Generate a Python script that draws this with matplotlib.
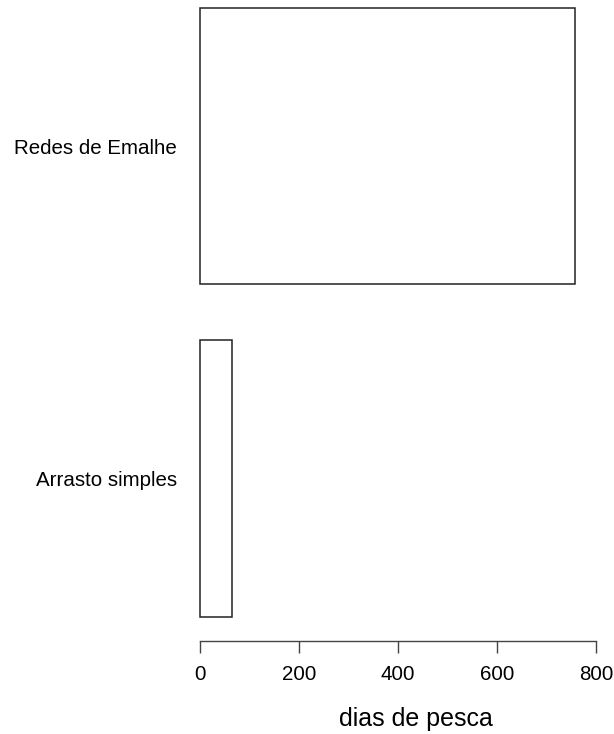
import matplotlib
matplotlib.use("Agg")
import matplotlib.pyplot as plt

categories = ["Arrasto simples", "Redes de Emalhe"]
dias = [65, 758]
xticks = [0, 200, 400, 600, 800]
xlabel = "dias de pesca"

plt.rcParams['font.family'] = ['Liberation Sans', 'DejaVu Sans']

W, H = 614, 734
fig = plt.figure(figsize=(W / 100, H / 100), dpi=100)

# axes box in pixels: x 0..800 spans 200..596 px, y 0.112..2.488
x0_px, x800_px = 200, 596
ppu = (x800_px - x0_px) / 800
xlo, xhi = -30, 820
left_px = x0_px + xlo * ppu
right_px = x0_px + xhi * ppu
ylo, yhi = 0.112, 2.488
yppu = (616 - 7) / 2.2
bottom_px = 641
top_px = bottom_px - (yhi - ylo) * yppu
ax = fig.add_axes([left_px / W, 1 - bottom_px / H,
                   (right_px - left_px) / W, (bottom_px - top_px) / H])
ax.set_xlim(xlo, xhi)
ax.set_ylim(ylo, yhi)

centers = [0.7, 1.9]
ax.barh(centers, dias, height=1.0, left=0, color="white",
        edgecolor="#222222", linewidth=1.1, clip_on=False)

for s in ["top", "right", "left"]:
    ax.spines[s].set_visible(False)
ax.spines["bottom"].set_bounds(0, 800)
ax.spines["bottom"].set_color("#444444")
ax.spines["bottom"].set_linewidth(1.0)
ax.set_xticks(xticks)
ax.set_xticklabels([str(t) for t in xticks], fontsize=14.8)
ax.tick_params(axis="x", length=8.6, width=1.0, color="#444444", pad=9)
ax.set_yticks(centers)
ax.set_yticklabels(categories, fontsize=14.8)
ax.tick_params(axis="y", length=0, pad=6)

fig.text(416 / W, 1 - 726 / H, xlabel, ha="center", va="baseline", fontsize=18)

fig.savefig("out.png", dpi=100)
